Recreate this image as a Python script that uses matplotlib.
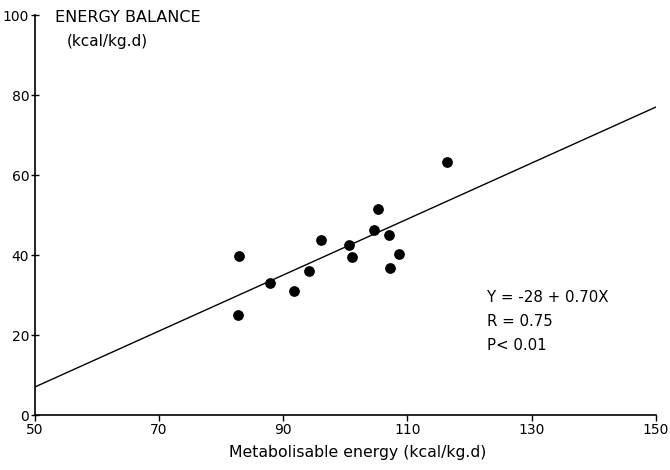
import matplotlib
matplotlib.use("Agg")
import matplotlib.pyplot as plt
import numpy as np

# metabolisable energy (kcal/kg.d) vs energy balance (kcal/kg.d)
met_energy = [82.9, 82.7, 87.8, 91.8, 94.2, 96.1, 100.6, 101.0,
              104.6, 105.2, 107.1, 107.2, 108.7, 116.3]
energy_balance = [39.7, 25.0, 32.9, 30.9, 36.0, 43.7, 42.5, 39.6,
                  46.2, 51.4, 45.1, 36.8, 40.3, 63.3]

intercept = -28
slope = 0.70
x_ticks = [50, 70, 90, 110, 130, 150]
y_ticks = [0, 20, 40, 60, 80, 100]

plt.rcParams['font.family'] = ['DejaVu Sans']

fig = plt.figure(figsize=(6.7, 4.7), dpi=100)
ax = fig.add_axes([0.052, 0.117, 0.927, 0.851])

ax.scatter(met_energy, energy_balance, s=45, color="black", zorder=3)

xs = np.array([50, 150])
ax.plot(xs, intercept + slope * xs, color="black", lw=1.0)

ax.set_xlim(50, 150)
ax.set_ylim(0, 100)
ax.set_xticks(x_ticks)
ax.set_yticks(y_ticks)
ax.spines["top"].set_visible(False)
ax.spines["right"].set_visible(False)
ax.spines["left"].set_linewidth(1.2)
ax.spines["bottom"].set_linewidth(1.2)
ax.tick_params(axis="x", direction="out", length=4, width=1, labelsize=10, pad=2)
ax.tick_params(axis="y", direction="inout", length=6, width=1, labelsize=10, pad=1)

ax.set_xlabel("Metabolisable energy (kcal/kg.d)", fontsize=11.3, labelpad=3)
ax.xaxis.set_label_coords(0.52, -0.075)

ax.text(53.2, 99.5, "ENERGY BALANCE", fontsize=11.5, va="center", ha="left")
ax.text(55.2, 93.5, "(kcal/kg.d)", fontsize=11, va="center", ha="left")

ax.text(122.8, 29.3, "Y = -28 + 0.70X", fontsize=10.8, va="center", ha="left")
ax.text(122.8, 23.3, "R = 0.75", fontsize=10.8, va="center", ha="left")
ax.text(122.8, 17.5, "P< 0.01", fontsize=10.8, va="center", ha="left")

fig.savefig("out.png", dpi=100)
plt.close(fig)
